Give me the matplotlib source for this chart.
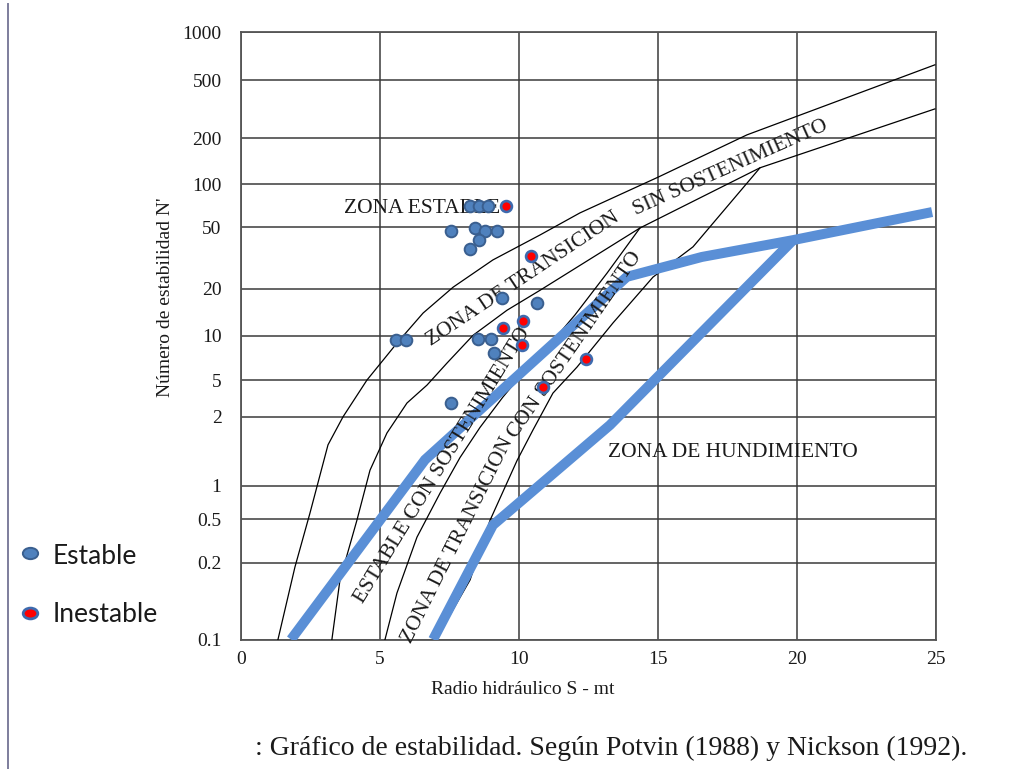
import numpy as np
import matplotlib
matplotlib.use('Agg')
import matplotlib.pyplot as plt
from matplotlib.lines import Line2D
from matplotlib.path import Path

plt.rcParams['font.family'] = ['Liberation Serif', 'DejaVu Serif']

# axis ticks
x_ticks = [0, 5, 10, 15, 20, 25]
y_ticks = [0.1, 0.2, 0.5, 1, 2, 5, 10, 20, 50, 100, 200, 500, 1000]
y_tick_labels = ['0.1', '0.2', '0.5', '1', '2', '5', '10', '20', '50', '100', '200', '500', '1000']
# the published N' axis is hand drawn: below 10 the ticks are not spaced
# logarithmically, so the scale interpolates between them (decades above 0.1)
y_tick_pos = [0, 0.507, 0.791, 1.012, 1.467, 1.709, 2.0, 2.310, 2.717, 3.0, 3.302, 3.684, 4.0]

# zone boundaries, radio hidraulico S vs N'
lim_estable_s = [1.33, 1.94, 2.48, 3.13, 3.67, 4.53, 5.61, 6.55, 7.63, 9.06, 10.76, 12.19, 15.0, 18.2, 24.96]
lim_estable_n = [0.1, 0.192, 0.569, 1.51, 2.0, 5.0, 8.93, 14.0, 20.5, 30.7, 44.5, 62.8, 111, 211, 625]

lim_sin_sost_s = [3.27, 3.56, 4.17, 4.64, 5.25, 5.97, 6.69, 7.41, 8.35, 9.57, 10.76, 14.35, 18.67, 24.96]
lim_sin_sost_n = [0.1, 0.171, 0.492, 1.17, 1.70, 2.82, 4.41, 6.53, 10.1, 14.6, 19.6, 49.3, 128, 318]

lim_con_sost_s = [5.18, 5.61, 6.33, 7.16, 7.88, 8.60, 9.42, 9.93, 10.94, 12.01, 13.17, 14.35]
lim_con_sost_n = [0.1, 0.152, 0.343, 0.861, 1.33, 1.80, 3.27, 5.0, 8.0, 13.6, 25.3, 49.3]

lim_hund_s = [7.01, 8.24, 8.96, 9.93, 10.50, 11.22, 12.09, 13.38, 14.82, 16.26, 18.67]
lim_hund_n = [0.1, 0.171, 0.492, 1.29, 1.75, 3.61, 6.14, 12.1, 23.8, 37.3, 128]

# fitted limits (blue)
ajuste_sup_s = [1.8, 6.62, 13.88, 16.58, 19.86, 24.86]
ajuste_sup_n = [0.1, 1.30, 23.9, 32.1, 41.2, 63.7]
ajuste_inf_s = [6.91, 9.06, 13.27, 19.86]
ajuste_inf_n = [0.1, 0.443, 1.84, 41.2]

# case histories
estable_s = [8.24, 8.56, 8.88, 7.55, 8.42, 8.78, 9.21, 8.56, 8.24,
             9.39, 10.65, 5.58, 5.94, 8.53, 8.99, 9.10, 7.55]
estable_n = [70, 70, 70, 47.2, 49.3, 47.2, 47.2, 41.3, 36.0,
             17.5, 16.2, 9.35, 9.35, 9.5, 9.5, 7.7, 2.8]
inestable_s = [9.53, 10.43, 10.14, 9.42, 10.11, 12.41, 10.86]
inestable_n = [70, 32.5, 12.4, 11.2, 8.65, 6.95, 4.2]

# zone names: text, S, N', angle
zonas = [
    ('ZONA ESTABLE', 6.5, 68, 0),
    ('ZONA DE TRANSICION', 10.14, 23.2, 33.7),
    ('SIN SOSTENIMIENTO', 17.6, 128, 24),
    ('ESTABLE CON SOSTENIMIENTO', 7.27, 1.23, 58.5),
    ('ZONA DE TRANSICION', 7.81, 0.322, 63.4),
    ('CON SOSTENIMIENTO', 12.0, 8.65, 55.5),
    ('ZONA DE HUNDIMIENTO', 17.7, 1.4, 0),
]

log_ticks = np.log10(y_ticks)
pos_ticks = np.array(y_tick_pos)


def n_fwd(v):
    lv = np.log10(np.maximum(np.asarray(v, float), 1e-300))
    out = np.interp(lv, log_ticks, pos_ticks)
    out = np.where(lv < log_ticks[0], pos_ticks[0] + (lv - log_ticks[0]), out)
    out = np.where(lv > log_ticks[-1], pos_ticks[-1] + (lv - log_ticks[-1]), out)
    return out


def n_inv(u):
    u = np.asarray(u, float)
    lv = np.interp(u, pos_ticks, log_ticks)
    lv = np.where(u < pos_ticks[0], log_ticks[0] + (u - pos_ticks[0]), lv)
    lv = np.where(u > pos_ticks[-1], log_ticks[-1] + (u - pos_ticks[-1]), lv)
    return 10 ** lv


W, H = 1021, 769
fig = plt.figure(figsize=(W / 100, H / 100), dpi=100)
ax = fig.add_axes([241 / W, 1 - 639.5 / H, 695 / W, 607.2 / H])
ax.set_yscale('function', functions=(n_fwd, n_inv))
ax.set_xlim(0, 25)
ax.set_ylim(0.1, 1000)
ax.set_xticks(x_ticks)
ax.set_xticklabels([str(t) for t in x_ticks])
ax.set_yticks(y_ticks)
ax.set_yticklabels(y_tick_labels)
ax.minorticks_off()
ax.tick_params(length=0, labelsize=14, colors='#1a1a1a')
ax.tick_params(axis='y', pad=14)
ax.tick_params(axis='x', pad=8)
ax.grid(True, color='#3a3a3a', lw=1.1)
ax.set_axisbelow(True)
for sp in ax.spines.values():
    sp.set_color('#555555')
    sp.set_linewidth(1.3)

for s, n in [(lim_estable_s, lim_estable_n), (lim_sin_sost_s, lim_sin_sost_n),
             (lim_con_sost_s, lim_con_sost_n), (lim_hund_s, lim_hund_n)]:
    ax.plot(s, n, color='black', lw=0.9, zorder=3)

azul = '#5a8fd6'
ax.plot(ajuste_sup_s, ajuste_sup_n, color=azul, lw=7.2, solid_joinstyle='miter',
        solid_capstyle='butt', zorder=4)
ax.plot(ajuste_inf_s, ajuste_inf_n, color=azul, lw=7.2, solid_joinstyle='miter',
        solid_capstyle='butt', zorder=4)

for txt, s, n, ang in zonas:
    ax.text(s, n, txt, rotation=ang, rotation_mode='anchor', ha='center', va='center',
            fontsize=15.5, color='#1a1a1a', zorder=5)

ax.plot(estable_s, estable_n, 'o', ms=8.4, mfc='#4f81bd', mec='#3a5f8f', mew=1.4,
        zorder=6, clip_on=False)
ax.plot(inestable_s, inestable_n, 'o', ms=7.8, mfc='#ff0000', mec='#3d6aae', mew=1.9,
        zorder=6, clip_on=False)

fig.text(523 / W, 1 - 690 / H, 'Radio hidráulico S - mt', ha='center', va='center',
         fontsize=14, color='#1a1a1a')
fig.text(165 / W, 1 - 297 / H, "Número de estabilidad N'", rotation=90,
         ha='center', va='center', fontsize=14, color='#1a1a1a')
fig.text(255 / W, 1 - 748 / H,
         ': Gráfico de estabilidad. Según Potvin (1988) y Nickson (1992).',
         ha='left', va='center', fontsize=20, color='#1a1a1a')

# legend at the left of the slide, slightly flattened bullets
circ = Path.unit_circle()
ovalo = Path(circ.vertices * [1.35, 1.0], circ.codes)
fig.add_artist(Line2D([30 / W], [1 - 553 / H], marker=ovalo, ms=11, mfc='#4f81bd',
                      mec='#3a5f8f', mew=1.4, ls='none'))
fig.add_artist(Line2D([30 / W], [1 - 613 / H], marker=ovalo, ms=10.5, mfc='#ff0000',
                      mec='#3d6aae', mew=2.0, ls='none'))
fig.text(53 / W, 1 - 556 / H, 'Estable', ha='left', va='center', fontsize=19,
         family=['Lato', 'DejaVu Sans'], color='#1a1a1a')
fig.text(53 / W, 1 - 614 / H, 'Inestable', ha='left', va='center', fontsize=19,
         family=['Lato', 'DejaVu Sans'], color='#1a1a1a')

# slide frame
fig.add_artist(Line2D([8 / W, 8 / W], [0, 1 - 4 / H], color='#7d7d9c', lw=1.4))

fig.savefig('out.png', dpi=100)
